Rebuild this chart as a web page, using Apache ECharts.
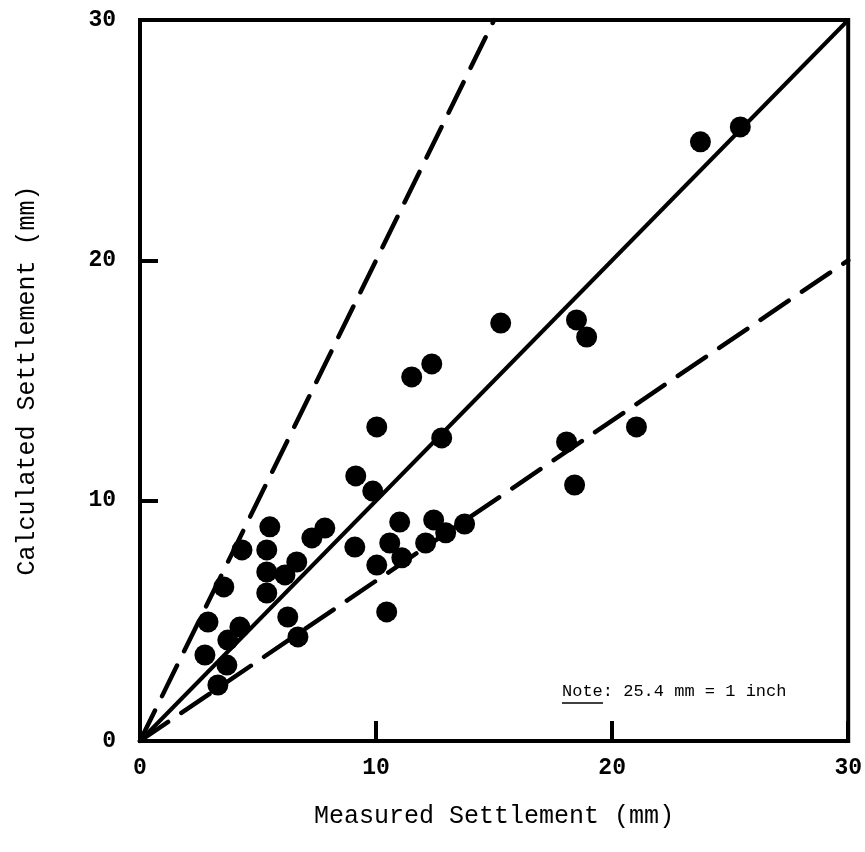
<!DOCTYPE html>
<html>
<head>
<meta charset="utf-8">
<script src="https://cdn.jsdelivr.net/npm/echarts@6/dist/echarts.min.js"></script>
<style>html,body{margin:0;padding:0;background:#fff;}#c{width:865px;height:852px;}</style>
</head>
<body>
<div id="c"></div>
<script>
// Measured (x) vs calculated (y) settlement, mm
const measured = [23.74, 25.43, 18.49, 18.92, 21.03, 18.07, 18.41, 15.28, 12.36, 11.51,
  10.03, 12.78, 9.14, 9.86, 11.00, 12.44, 13.75, 9.10, 10.58, 11.09,
  12.10, 12.95, 10.03, 10.45, 5.50, 7.83, 7.28, 4.32, 5.37, 6.64,
  5.37, 6.14, 3.55, 5.37, 6.26, 6.69, 2.88, 4.23, 3.72, 2.75,
  3.68, 3.30];
const calculated = [24.93, 25.55, 17.52, 16.81, 13.07, 12.44, 10.65, 17.39, 15.69, 15.15,
  13.07, 12.61, 11.03, 10.40, 9.11, 9.20, 9.03, 8.07, 8.24, 7.62,
  8.24, 8.66, 7.32, 5.37, 8.91, 8.86, 8.45, 7.95, 7.95, 7.45,
  7.03, 6.91, 6.41, 6.16, 5.16, 4.33, 4.95, 4.74, 4.20, 3.58,
  3.16, 2.33];
const lineEqual = [[0, 0], [30, 30]];
const lineUpper = [[0, 0], [15, 30]];
const lineLower = [[0, 0], [30, 20]];
const xTicks = [0, 10, 20, 30];
const yTicks = [0, 10, 20, 30];

const points = measured.map((m, i) => [m, calculated[i]]);
const FONT = "'Liberation Mono', 'DejaVu Sans Mono', monospace";

const chart = echarts.init(document.getElementById('c'), null, {renderer: 'canvas'});
chart.setOption({
  animation: false,
  backgroundColor: '#fff',
  grid: {left: 140, top: 20, right: 16, bottom: 111, show: true, borderColor: '#000', borderWidth: 4, containLabel: false},
  xAxis: {
    type: 'value', min: xTicks[0], max: xTicks[xTicks.length - 1], interval: 10,
    name: 'Measured Settlement (mm)', nameLocation: 'middle', nameGap: 63,
    nameTextStyle: {fontFamily: FONT, fontSize: 25, color: '#000'},
    axisLine: {show: true, lineStyle: {color: '#000', width: 4}},
    axisTick: {show: true, inside: true, length: 20, lineStyle: {color: '#000', width: 4}},
    axisLabel: {margin: 16, fontFamily: FONT, fontSize: 23, fontWeight: 'bold', color: '#000'},
    splitLine: {show: false}
  },
  yAxis: {
    type: 'value', min: yTicks[0], max: yTicks[yTicks.length - 1], interval: 10,
    name: 'Calculated Settlement (mm)', nameLocation: 'middle', nameGap: 100,
    nameTextStyle: {fontFamily: FONT, fontSize: 25, color: '#000'},
    axisLine: {show: true, lineStyle: {color: '#000', width: 4}},
    axisTick: {show: true, inside: true, length: 18, lineStyle: {color: '#000', width: 4}},
    axisLabel: {margin: 24, fontFamily: FONT, fontSize: 23, fontWeight: 'bold', color: '#000'},
    splitLine: {show: false}
  },
  series: [
    {type: 'line', data: lineEqual, symbol: 'none', lineStyle: {color: '#000', width: 4, opacity: 1}, z: 2},
    {type: 'line', data: lineUpper, symbol: 'none', lineStyle: {color: '#000', width: 4.5, opacity: 1, type: [34, 16], cap: 'round'}, z: 2},
    {type: 'line', data: lineLower, symbol: 'none', lineStyle: {color: '#000', width: 4.5, opacity: 1, type: [34, 16], cap: 'round'}, z: 2},
    {type: 'scatter', data: points, symbol: 'circle', symbolSize: 21, itemStyle: {color: '#000', opacity: 1}, z: 3}
  ],
  graphic: [
    {type: 'text', left: 562, top: 683, style: {text: 'Note: 25.4 mm = 1 inch', font: '17px ' + FONT, fill: '#000'}},
    {type: 'line', shape: {x1: 562, y1: 703, x2: 603, y2: 703}, style: {stroke: '#000', lineWidth: 1.5}}
  ]
});
</script>
</body>
</html>
